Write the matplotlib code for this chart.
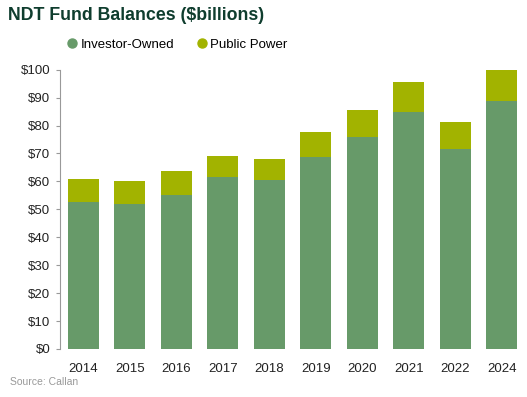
import matplotlib
matplotlib.use("Agg")
import matplotlib.pyplot as plt
from matplotlib.lines import Line2D
import numpy as np

plt.rcParams['font.family'] = ['Liberation Sans', 'DejaVu Sans']

years = ["2014", "2015", "2016", "2017", "2018", "2019", "2020", "2021", "2022", "2024"]
investor_owned = [52.5, 51.8, 55.1, 61.6, 60.5, 68.7, 75.9, 84.9, 71.6, 88.9]
public_power = [8.4, 8.3, 8.6, 7.5, 7.5, 9.0, 9.7, 10.7, 9.7, 11.4]
yticks = [0, 10, 20, 30, 40, 50, 60, 70, 80, 90, 100]

c_inv = "#679a69"
c_pub = "#a2b300"

W, H = 527, 397
fig = plt.figure(figsize=(W / 100, H / 100), dpi=100)
ax = fig.add_axes([60 / W, 1 - 349 / H, 465 / W, 279.3 / H])

x = np.arange(len(years))
ax.bar(x, investor_owned, width=0.67, color=c_inv, zorder=2)
ax.bar(x, public_power, width=0.67, bottom=investor_owned, color=c_pub, zorder=2)

ax.set_xlim(-0.5, len(years) - 0.5)
ax.set_ylim(0, 100)
ax.set_yticks(yticks)
ax.set_yticklabels(["$%d" % v for v in yticks], fontsize=9.5, color="#222222")
ax.set_xticks(x)
ax.set_xticklabels(years, fontsize=9.5, color="#222222")
ax.tick_params(axis="x", length=0, pad=10)
ax.tick_params(axis="y", length=3, width=0.8, color="#999999", pad=4)
for s in ["top", "right", "bottom"]:
    ax.spines[s].set_visible(False)
ax.spines["left"].set_color("#999999")
ax.spines["left"].set_linewidth(0.8)

fig.text(8 / W, 1 - 16 / H, "NDT Fund Balances ($billions)", fontsize=12.8,
         fontweight="bold", color="#0f3d2e", va="center", ha="left")
fig.text(10 / W, 1 - 382 / H, "Source: Callan", fontsize=7.5, color="#999999",
         va="center", ha="left")

handles = [
    Line2D([], [], marker="o", linestyle="none", markersize=6.5, color=c_inv),
    Line2D([], [], marker="o", linestyle="none", markersize=6.5, color=c_pub),
]
fig.legend(handles, ["Investor-Owned", "Public Power"], loc="center left",
           bbox_to_anchor=(64 / W, 1 - 45 / H), ncol=2, frameon=False,
           fontsize=9.5, handletextpad=0.05, columnspacing=1.5,
           handlelength=1.2, borderaxespad=0, borderpad=0)

fig.savefig("out.png", dpi=100)
